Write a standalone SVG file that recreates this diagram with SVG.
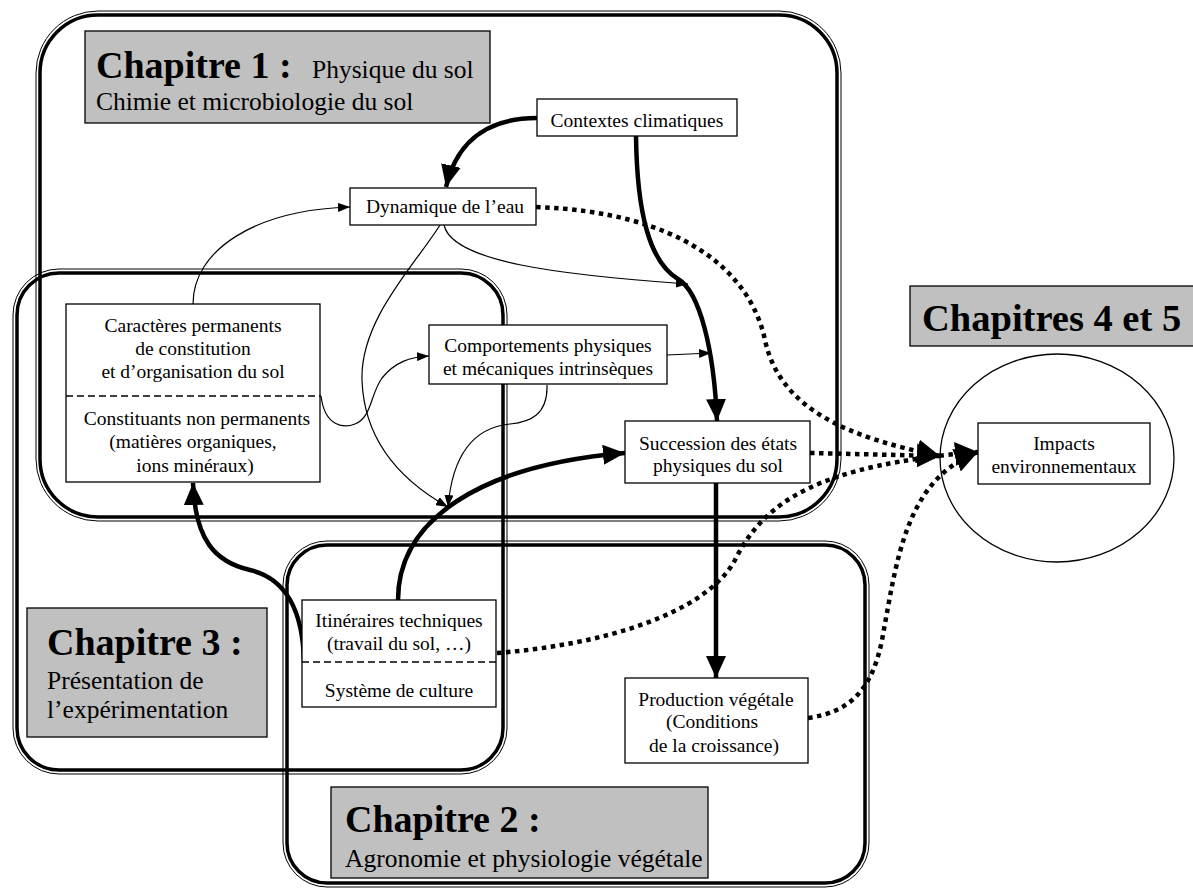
<svg xmlns="http://www.w3.org/2000/svg" width="1193" height="888" viewBox="0 0 1193 888">
<style>
text{font-family:"Liberation Serif","Times New Roman",serif;fill:#000}
.n{font-size:19.5px;text-anchor:middle}
.big{font-size:38px;font-weight:bold}
.mid{font-size:25.5px}
.box{fill:#fff;stroke:#000;stroke-width:1.3}
.lab{fill:#c0c0c0;stroke:#000;stroke-width:1.3}
.ck{fill:none;stroke:#000;stroke-width:3.5}
.cn{fill:none;stroke:#000;stroke-width:1}
.dash{stroke:#000;stroke-width:1.5;stroke-dasharray:7 4;fill:none}
.thin{fill:none;stroke:#000;stroke-width:1.2}
.thick{fill:none;stroke:#000;stroke-width:4.5}
.dot{fill:none;stroke:#000;stroke-width:4.5;stroke-dasharray:4.5 4.5}
</style>
<defs>
<marker id="aThin" viewBox="0 0 12 9" refX="12" refY="4.5" markerWidth="12" markerHeight="9" orient="auto" markerUnits="userSpaceOnUse"><path d="M0,0 L12,4.5 L0,9 z" fill="#000"/></marker>
<marker id="aThick" viewBox="0 0 22 20" refX="22" refY="10" markerWidth="22" markerHeight="20" orient="auto" markerUnits="userSpaceOnUse"><path d="M0,0 L22,10 L0,20 z" fill="#000"/></marker>
<marker id="aDot" viewBox="0 0 23 24" refX="23" refY="12" markerWidth="23" markerHeight="24" orient="auto" markerUnits="userSpaceOnUse"><path d="M0,0 L23,12 L0,24 z" fill="#000"/></marker>
</defs>
<rect width="1193" height="888" fill="#fff"/>

<g id="chapitre1">
<rect class="cn" x="36" y="11" width="805" height="510" rx="62"/>
<rect class="ck" x="40" y="15" width="797" height="502" rx="58"/>
</g>
<g id="chapitre3">
<rect class="cn" x="13" y="269" width="494" height="505" rx="46"/>
<rect class="ck" x="17" y="273" width="486" height="497" rx="42"/>
</g>
<g id="chapitre2">
<rect class="cn" x="283" y="541" width="586" height="346" rx="44"/>
<rect class="ck" x="287" y="545" width="578" height="338" rx="40"/>
</g>
<g id="chapitres45">
<ellipse cx="1057" cy="458" rx="117" ry="104" fill="none" stroke="#000" stroke-width="1.3"/>
</g>

<g id="label-ch1">
<rect class="lab" x="85" y="31" width="405" height="92"/>
<text class="big" x="96" y="78">Chapitre 1 :</text>
<text class="mid" x="312" y="78">Physique du sol</text>
<text class="mid" x="96" y="110">Chimie et microbiologie du sol</text>
</g>
<g id="label-ch45">
<rect class="lab" x="910" y="286" width="290" height="60"/>
<text class="big" x="922" y="331" style="font-size:38.5px">Chapitres 4 et 5</text>
</g>
<g id="label-ch3">
<rect class="lab" x="27" y="608" width="240" height="129"/>
<text class="big" x="47" y="655">Chapitre 3 :</text>
<text class="mid" x="47" y="689">Présentation de</text>
<text class="mid" x="47" y="718">l’expérimentation</text>
</g>
<g id="label-ch2">
<rect class="lab" x="331" y="787" width="377" height="91"/>
<text class="big" x="345" y="832">Chapitre 2 :</text>
<text class="mid" x="345" y="867">Agronomie et physiologie végétale</text>
</g>

<g id="connectors">
<path class="thick" d="M537,118 C495,118 458,135 446,187" marker-end="url(#aThick)"/>
<path class="thick" d="M636,136 C637,215 650,262 678,279 C700,292 714,350 717,421" marker-end="url(#aThick)"/>
<path class="thick" d="M716,483 L716,678" marker-end="url(#aThick)"/>
<path class="thick" d="M398,600 C398,520 480,465 625,453" marker-end="url(#aThick)"/>
<path class="thick" d="M304,662 C303,610 285,578 250,570 C215,562 195,540 193,483" marker-end="url(#aThick)"/>
<path class="thin" d="M193,304 C193,250 255,210 350,207" marker-end="url(#aThin)"/>
<path class="thin" d="M440,225 C415,265 360,320 362,380 C364,440 400,480 448,507" marker-end="url(#aThin)"/>
<path class="thin" d="M547,385 C548,415 530,422 510,424 C470,428 452,460 448,507" marker-end="url(#aThin)"/>
<path class="thin" d="M444,225 C452,262 560,275 688,284" marker-end="url(#aThin)"/>
<path class="thin" d="M667,355 L711,353" marker-end="url(#aThin)"/>
<path class="thin" d="M321,396 C325,428 345,428 355,424 C372,417 370,395 382,378 C395,362 410,357 429,356" marker-end="url(#aThin)"/>
<path class="dot" d="M536,207 C680,212 750,270 765,340 C780,410 850,438 940,456" marker-end="url(#aDot)"/>
<path class="dot" d="M810,453 L940,456" marker-end="url(#aDot)"/>
<path class="dot" d="M497,653 C600,645 705,615 735,560 C765,500 820,465 978,452" marker-end="url(#aDot)"/>
<path class="dot" d="M808,718 C850,712 872,690 882,640 C897,560 905,480 978,452" marker-end="url(#aDot)"/>
</g>

<g id="contextes">
<rect class="box" x="537" y="99" width="200" height="37"/>
<text class="n" x="637" y="127">Contextes climatiques</text>
</g>
<g id="dynamique">
<rect class="box" x="350" y="188" width="186" height="37"/>
<text class="n" x="445" y="213">Dynamique de l’eau</text>
</g>
<g id="caracteres">
<rect class="box" x="66" y="304" width="254" height="178"/>
<line class="dash" x1="66" y1="396" x2="321" y2="396"/>
<text class="n" x="193" y="332">Caractères permanents</text>
<text class="n" x="193" y="355">de constitution</text>
<text class="n" x="193" y="378">et d’organisation du sol</text>
<text class="n" x="197" y="425">Constituants non permanents</text>
<text class="n" x="193" y="448">(matières organiques,</text>
<text class="n" x="195" y="472">ions minéraux)</text>
</g>
<g id="comportements">
<rect class="box" x="429" y="325" width="238" height="59"/>
<text class="n" x="548" y="352">Comportements physiques</text>
<text class="n" x="548" y="375">et mécaniques intrinsèques</text>
</g>
<g id="succession">
<rect class="box" x="625" y="421" width="185" height="62"/>
<text class="n" x="718" y="450">Succession des états</text>
<text class="n" x="718" y="472">physiques du sol</text>
</g>
<g id="impacts">
<rect class="box" x="978" y="423" width="172" height="61"/>
<text class="n" x="1064" y="450">Impacts</text>
<text class="n" x="1064" y="473">environnementaux</text>
</g>
<g id="itineraires">
<rect class="box" x="302" y="600" width="194" height="107"/>
<line class="dash" x1="302" y1="662" x2="497" y2="662"/>
<text class="n" x="399" y="627">Itinéraires techniques</text>
<text class="n" x="399" y="650">(travail du sol, …)</text>
<text class="n" x="399" y="697">Système de culture</text>
</g>
<g id="production">
<rect class="box" x="625" y="678" width="183" height="85"/>
<text class="n" x="716" y="706">Production végétale</text>
<text class="n" x="712" y="728">(Conditions</text>
<text class="n" x="714" y="752">de la croissance)</text>
</g>
</svg>
